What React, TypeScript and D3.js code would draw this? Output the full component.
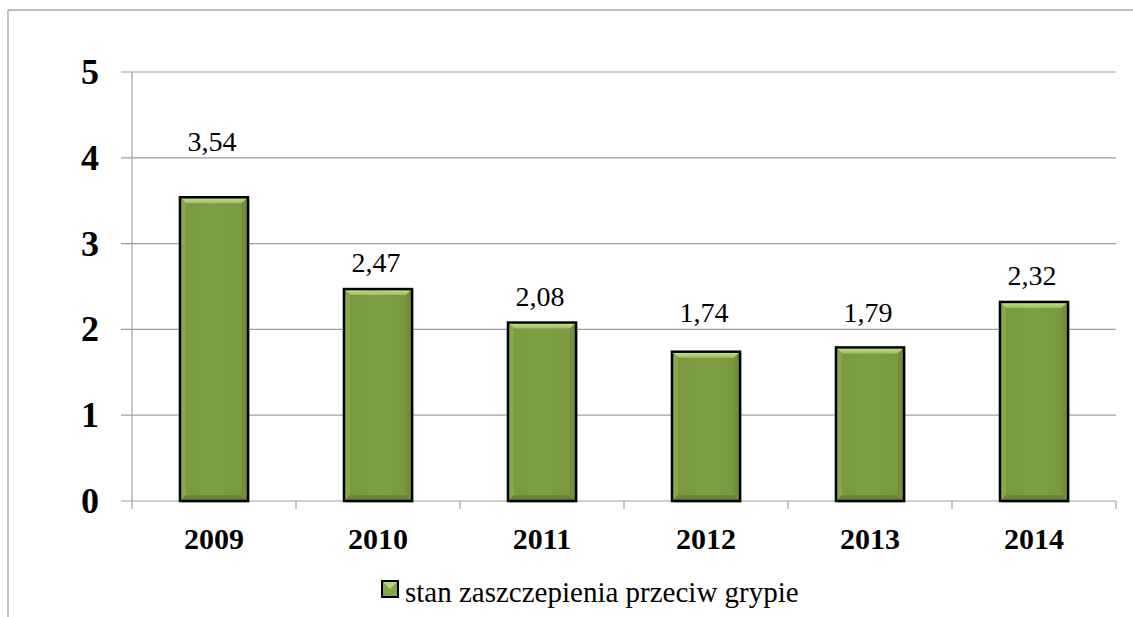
import React from "react";
import * as d3 from "d3";

const years = ["2009", "2010", "2011", "2012", "2013", "2014"];
const values = [3.54, 2.47, 2.08, 1.74, 1.79, 2.32];
const yTicks = [0, 1, 2, 3, 4, 5];
const seriesName = "stan zaszczepienia przeciw grypie";

const width = 1133;
const height = 617;
const font = "'Liberation Serif', 'Times New Roman', 'DejaVu Serif', serif";

const App = () => {
  const left = 132;
  const right = 1116;
  const top = 72;
  const bottom = 501;

  const x = d3.scaleBand<string>().domain(years).range([left, right]).paddingInner(0.585).paddingOuter(0.2925);
  const y = d3.scaleLinear().domain([0, 5]).range([bottom, top]);
  const step = x.step();
  const bw = x.bandwidth();
  const bev = 6;
  const fmt = (v: number) => v.toFixed(2).replace(".", ",");

  // put the label above the bar; lift it over a gridline if it would cross one
  const labelY = (v: number) => {
    let b = y(v) - 17;
    const hit = yTicks.map((t) => y(t)).find((g) => g > b - 24 && g < b + 3);
    if (hit !== undefined) b = hit - 7;
    return b;
  };

  return (
    <svg width={width} height={height} style={{ position: "absolute", left: 0, top: 0 }}>
      <defs>
        <linearGradient id="topBev" x1="0" y1="0" x2="0" y2="1">
          <stop offset="0" stopColor="#c9e49a" />
          <stop offset="1" stopColor="#9dbe5e" />
        </linearGradient>
        <linearGradient id="barBody" x1="0" y1="0" x2="1" y2="0">
          <stop offset="0" stopColor="#789840" />
          <stop offset="0.5" stopColor="#7f9f46" />
          <stop offset="1" stopColor="#789840" />
        </linearGradient>
      </defs>
      <rect x={0} y={0} width={width} height={height} fill="#fff" />
      {/* chart border */}
      <line x1={8} x2={width} y1={10} y2={10} stroke="#a6a6a6" strokeWidth={1.3} />
      <line x1={8} x2={8} y1={10} y2={height} stroke="#a6a6a6" strokeWidth={1.3} />

      {/* gridlines + y labels */}
      {yTicks.map((t) => (
        <g key={t}>
          <line x1={left - 11} x2={right} y1={y(t)} y2={y(t)} stroke="#a0a0a0" strokeWidth={1.2} />
          <text x={99} y={y(t) + 12} textAnchor="end" fontFamily={font} fontWeight="bold" fontSize={36}>
            {t}
          </text>
        </g>
      ))}
      <line x1={left} x2={left} y1={top} y2={bottom} stroke="#a0a0a0" strokeWidth={1.2} />

      {/* category ticks */}
      {d3.range(years.length + 1).map((i) => (
        <line key={i} x1={left + i * step} x2={left + i * step} y1={bottom} y2={bottom + 8} stroke="#a0a0a0" strokeWidth={1.2} />
      ))}

      {/* bars */}
      {years.map((yr, i) => {
        const x0 = x(yr)!;
        const y0 = y(values[i]);
        const h = bottom - y0;
        return (
          <g key={yr}>
            <rect x={x0 + 2} y={y0 + 2} width={bw} height={h} fill="#000" opacity={0.12} />
            <rect x={x0} y={y0} width={bw} height={h} fill="url(#barBody)" />
            <polygon
              points={`${x0},${y0} ${x0 + bw},${y0} ${x0 + bw - bev},${y0 + bev} ${x0 + bev},${y0 + bev}`}
              fill="url(#topBev)"
            />
            <polygon
              points={`${x0},${y0} ${x0 + bev},${y0 + bev} ${x0 + bev},${bottom - bev} ${x0},${bottom}`}
              fill="#86a74c"
            />
            <polygon
              points={`${x0 + bw},${y0} ${x0 + bw - bev},${y0 + bev} ${x0 + bw - bev},${bottom - bev} ${x0 + bw},${bottom}`}
              fill="#718f3a"
            />
            <polygon
              points={`${x0},${bottom} ${x0 + bev},${bottom - bev} ${x0 + bw - bev},${bottom - bev} ${x0 + bw},${bottom}`}
              fill="#6a8736"
            />
            <rect x={x0} y={y0} width={bw} height={h} fill="none" stroke="#000" strokeWidth={2.5} />
            <text x={x0 + bw / 2 - 2} y={labelY(values[i])} textAnchor="middle" fontFamily={font} fontSize={28}>
              {fmt(values[i])}
            </text>
            <text x={x0 + bw / 2} y={549} textAnchor="middle" fontFamily={font} fontWeight="bold" fontSize={30}>
              {yr}
            </text>
          </g>
        );
      })}

      {/* legend */}
      <g>
        <rect x={382} y={581} width={16} height={16} fill="#84a64a" stroke="#000" strokeWidth={2} />
        <polygon points="383,582 397,582 390,589" fill="#b7d681" />
        <text x={405} y={602} fontFamily={font} fontSize={29}>
          {seriesName}
        </text>
      </g>
    </svg>
  );
};

export default App;
